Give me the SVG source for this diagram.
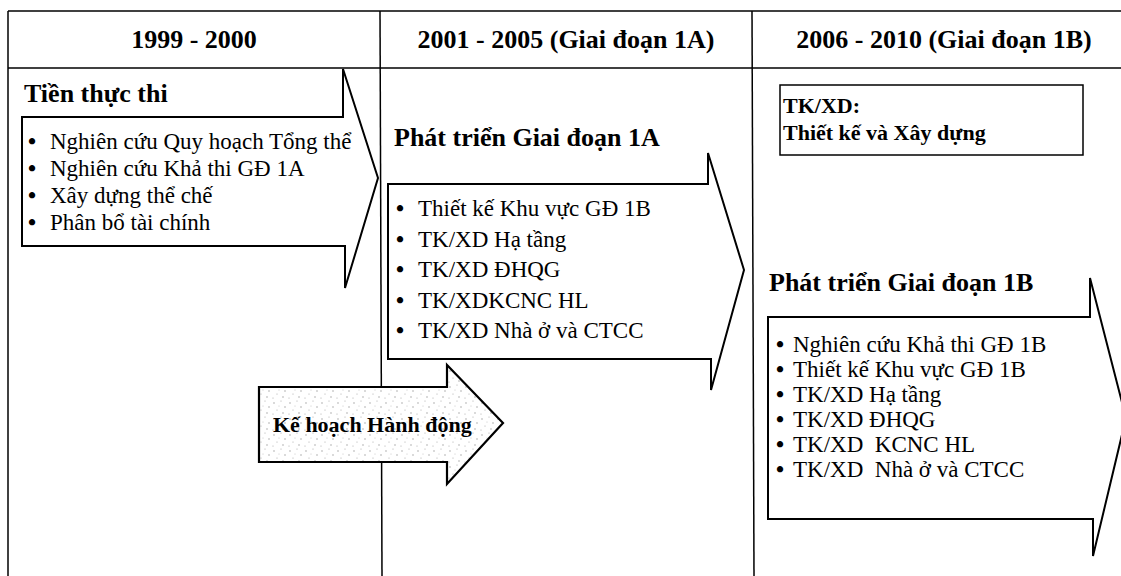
<svg xmlns="http://www.w3.org/2000/svg" width="1121" height="576" viewBox="0 0 1121 576">
<style>
.ln{stroke:#000;stroke-width:1.5;fill:none}
.sh{fill:#fff;stroke:#000;stroke-width:2;stroke-linejoin:miter}
text{font-family:"Liberation Serif","Times New Roman",serif;fill:#000}
.hdr{font-size:26px;font-weight:bold;text-anchor:middle}
.ttl{font-size:26px;font-weight:bold}
.it{font-size:23px}
.bu{font-size:23px;font-weight:bold}
.bx{font-size:22px;font-weight:bold}
</style>
<defs>
<pattern id="stip" width="16" height="16" patternUnits="userSpaceOnUse">
<rect width="16" height="16" fill="#fff"/>
<circle cx="2" cy="3" r="0.7" fill="#999"/>
<circle cx="9" cy="1" r="0.6" fill="#aaa"/>
<circle cx="13" cy="7" r="0.7" fill="#999"/>
<circle cx="5" cy="10" r="0.6" fill="#aaa"/>
<circle cx="11" cy="13" r="0.7" fill="#999"/>
<circle cx="1" cy="14" r="0.6" fill="#aaa"/>
<circle cx="7" cy="6" r="0.5" fill="#bbb"/>
</pattern>
</defs>
<rect width="1121" height="576" fill="#fff"/>
<g id="table" class="ln">
<line x1="8" y1="11" x2="1121" y2="11"/>
<line x1="8" y1="68" x2="1121" y2="68"/>
<line x1="8" y1="11" x2="8" y2="576"/>
<line x1="380" y1="11" x2="382" y2="576"/>
<line x1="752" y1="11" x2="754" y2="576"/>
</g>
<g id="headers">
<text class="hdr" x="194" y="48">1999 - 2000</text>
<text class="hdr" x="566" y="48">2001 - 2005 (Giai đoạn 1A)</text>
<text class="hdr" x="944" y="48">2006 - 2010 (Giai đoạn 1B)</text>
</g>
<g id="pre-implementation">
<polygon class="sh" points="22,117 343,117 343,69 378,178 345,288 345,246 22,246"/>
<text class="ttl" x="24" y="102">Tiền thực thi</text>
<g class="bu">
<text x="28" y="149">•</text><text x="28" y="176">•</text><text x="28" y="203">•</text><text x="28" y="230">•</text>
</g>
<g class="it">
<text x="50" y="149">Nghiên cứu Quy hoạch Tổng thể</text>
<text x="50" y="176">Nghiên cứu Khả thi GĐ 1A</text>
<text x="50" y="203">Xây dựng thể chế</text>
<text x="50" y="230">Phân bổ tài chính</text>
</g>
</g>
<g id="phase-1a">
<polygon class="sh" points="388,184 708,184 708,153 744,270 711,390 711,359 388,359"/>
<text class="ttl" x="394" y="146">Phát triển Giai đoạn 1A</text>
<g class="bu">
<text x="396" y="216">•</text><text x="396" y="247">•</text><text x="396" y="277">•</text><text x="396" y="308">•</text><text x="396" y="338">•</text>
</g>
<g class="it">
<text x="418" y="216">Thiết kế Khu vực GĐ 1B</text>
<text x="418" y="247">TK/XD Hạ tầng</text>
<text x="418" y="277">TK/XD ĐHQG</text>
<text x="418" y="308">TK/XDKCNC HL</text>
<text x="418" y="338">TK/XD Nhà ở và CTCC</text>
</g>
</g>
<g id="legend">
<rect x="780" y="85" width="303" height="70" fill="#fff" stroke="#000" stroke-width="1.5"/>
<text class="bx" x="783" y="113">TK/XD:</text>
<text class="bx" x="783" y="140">Thiết kế và Xây dựng</text>
</g>
<g id="phase-1b">
<polygon class="sh" points="768,317 1090,317 1090,278 1126,418 1093,556 1093,519 768,519"/>
<text class="ttl" x="769" y="291">Phát triển Giai đoạn 1B</text>
<g class="bu">
<text x="776" y="352">•</text><text x="776" y="377">•</text><text x="776" y="402">•</text><text x="776" y="427">•</text><text x="776" y="452">•</text><text x="776" y="477">•</text>
</g>
<g class="it">
<text x="793" y="352">Nghiên cứu Khả thi GĐ 1B</text>
<text x="793" y="377">Thiết kế Khu vực GĐ 1B</text>
<text x="793" y="402">TK/XD Hạ tầng</text>
<text x="793" y="427">TK/XD ĐHQG</text>
<text x="793" y="452" xml:space="preserve">TK/XD  KCNC HL</text>
<text x="793" y="477" xml:space="preserve">TK/XD  Nhà ở và CTCC</text>
</g>
</g>
<g id="action-plan">
<polygon points="259,387 447,387 447,365 503,423 447,484 447,462 259,462" fill="url(#stip)" stroke="#000" stroke-width="2.2"/>
<text class="bx" x="273" y="432">Kế hoạch Hành động</text>
</g>
</svg>
